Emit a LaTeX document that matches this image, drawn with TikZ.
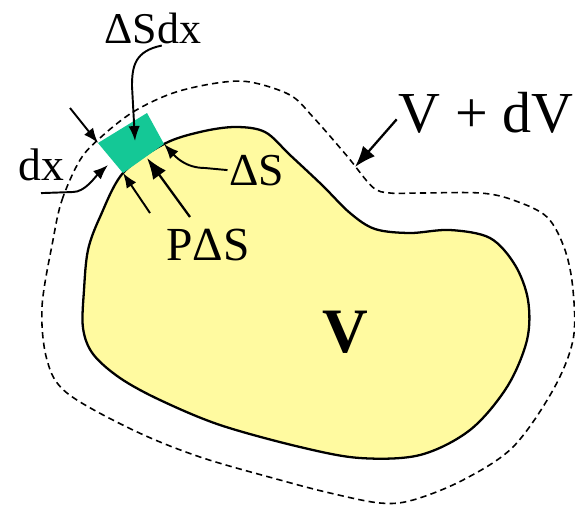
\documentclass[tikz,border=0pt]{standalone}
\usepackage{fontspec}
\setmainfont{Liberation Serif}
\usetikzlibrary{calc,arrows.meta}
\definecolor{bodyyellow}{RGB}{255,250,160}
\definecolor{layergreen}{RGB}{20,200,150}

\begin{document}
\begin{tikzpicture}[
    body/.style={draw=black, fill=bodyyellow, line width=1.3pt},
    outer/.style={draw=black, dashed, dash pattern=on 3.6pt off 2.4pt, line width=0.9pt},
    layer/.style={draw=none, fill=layergreen},
    lbl/.style={inner sep=1pt, anchor=base},
    ptr/.style={-{Latex[length=8.5pt, width=6.5pt]}, line width=1.1pt},
    bigptr/.style={-{Latex[length=12pt, width=9pt]}, line width=1.3pt}
]
\useasboundingbox (0,0) rectangle (11.5,10.12);

% corners of the thin layer
\coordinate (A) at (1.96,7.26);
\coordinate (B) at (2.94,7.86);
\coordinate (C) at (3.28,7.24);
\coordinate (D) at (2.46,6.66);

% V + dV
\draw[outer] plot[smooth cycle, tension=0.55] coordinates {
    (1.06,5.32) (1.24,6.12) (1.60,6.92) (2.00,7.36) (2.66,7.88) (3.46,8.26)
    (4.34,8.46) (5.00,8.48) (5.80,8.22) (6.26,7.78) (6.94,7.00) (7.45,6.38)
    (7.80,6.26) (8.40,6.26) (9.60,6.26) (10.26,6.12) (10.94,5.78) (11.30,5.12)
    (11.46,4.32) (11.46,3.32) (11.06,2.32) (10.26,1.18) (9.26,0.52) (8.26,0.12)
    (7.60,0.06) (6.60,0.26) (5.60,0.52) (4.00,0.98) (2.66,1.52) (1.34,2.26)
    (0.94,2.92) (0.84,3.98)};

% V
\draw[body] plot[smooth cycle, tension=0.55] coordinates {
    (D) (2.00,5.78) (1.76,5.12) (1.68,4.32) (1.66,3.56) (1.86,3.04)
    (2.40,2.56) (3.20,2.12) (4.40,1.62) (6.00,1.18) (7.20,0.96) (8.40,1.02)
    (9.40,1.52) (10.14,2.38) (10.54,3.32) (10.56,4.12) (10.30,4.82) (9.80,5.36)
    (9.00,5.52) (8.20,5.46) (7.50,5.54) (7.00,5.86) (6.44,6.42) (5.80,7.02)
    (5.30,7.48) (4.70,7.58) (4.00,7.48) (C)};

\fill[layer] (A) -- (B) -- (C) -- (D) -- cycle;

\node[lbl] (sdx) at (3.06,9.26) {\fontsize{25}{30}\selectfont ΔSdx};
\node[lbl] (vdv) at (9.72,7.48) {\fontsize{33}{40}\selectfont V + dV};
\node[lbl] (dx) at (0.82,6.52) {\fontsize{26}{30}\selectfont dx};
\node[lbl] (ds) at (5.14,6.42) {\fontsize{26}{30}\selectfont ΔS};
\node[lbl] (pds) at (4.16,4.92) {\fontsize{27}{32}\selectfont PΔS};
\node[lbl] (vol) at (6.90,3.08) {\fontsize{36}{42}\selectfont\bfseries V};

\coordinate (mid) at (2.70,7.30);
\coordinate (rim) at (7.10,6.78);
\coordinate (dxtop) at (1.40,7.96);
\coordinate (dxbot) at (3.00,5.86);
\coordinate (dxtip) at (2.16,6.82);
\coordinate (ptail) at (3.80,5.78);
\coordinate (ptip) at (2.94,6.96);

\draw[ptr] ([xshift=5pt]sdx.south) .. controls (2.70,9.10) and (2.64,8.80) .. (2.64,8.40) -- (mid);
\draw[bigptr] ([yshift=-4pt]vdv.west) -- (rim);
\draw[ptr] (dxtop) -- (A);
\draw[ptr] (dxbot) -- (D);
\draw[ptr] ([yshift=-6pt]dx.south) -- (1.46,6.28) .. controls (1.70,6.28) and (1.90,6.58) .. (dxtip);
\draw[bigptr] (ptail) -- (ptip);
\draw[ptr] (ds.west) -- (4.10,6.76) .. controls (3.70,6.76) and (3.50,7.00) .. (C);

\end{tikzpicture}
\end{document}
